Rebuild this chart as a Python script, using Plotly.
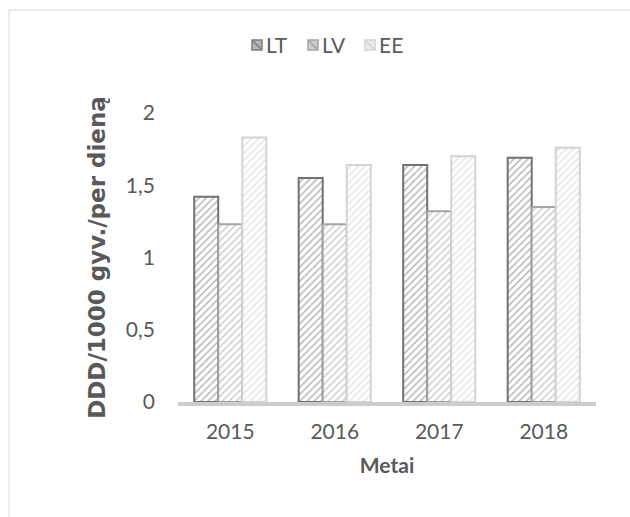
import plotly.graph_objects as go

years = ["2015", "2016", "2017", "2018"]
lt = [1.42, 1.55, 1.64, 1.69]
lv = [1.23, 1.23, 1.32, 1.35]
ee = [1.83, 1.64, 1.70, 1.76]
series_names = ["LT", "LV", "EE"]
y_ticks = [0, 0.5, 1, 1.5, 2]
y_tick_labels = ["0", "0,5", "1", "1,5", "2"]

styles = [
    dict(fg="#6f6f6f", line="#727272", box="#7c7c7c", boxfill="#b4b4b4"),
    dict(fg="#9c9c9c", line="#a4a4a4", box="#a4a4a4", boxfill="#cccccc"),
    dict(fg="#cdcdcd", line="#d4d4d4", box="#d4d4d4", boxfill="#ebebeb"),
]

fig = go.Figure()
for name, vals, st in zip(series_names, [lt, lv, ee], styles):
    fig.add_trace(go.Bar(
        x=years, y=vals, name=name, showlegend=False,
        marker=dict(
            color="white",
            line=dict(color=st["line"], width=2),
            pattern=dict(shape="/", fgcolor=st["fg"], bgcolor="white", size=5, solidity=0.3),
        ),
    ))

W, H = 630, 517
L, R, T, B = 178, 34, 113, 115
pw, ph = W - L - R, H - T - B

def px(x):
    return (x - L) / pw

def py(y):
    return (H - B - y) / ph

shapes = [dict(type="rect", xref="paper", yref="paper",
               x0=px(9), x1=px(640), y0=py(530), y1=py(10),
               line=dict(color="#d9d9d9", width=1), fillcolor="rgba(0,0,0,0)", layer="below")]
annotations = []

# manual legend (compact, box right next to text like the original)
legend_x = [252, 308, 365]
for name, st, lx in zip(series_names, styles, legend_x):
    shapes.append(dict(type="rect", xref="paper", yref="paper",
                       x0=px(lx), x1=px(lx + 10), y0=py(50), y1=py(40),
                       line=dict(color=st["box"], width=1.5), fillcolor=st["boxfill"]))
    shapes.append(dict(type="line", xref="paper", yref="paper",
                       x0=px(lx + 1), x1=px(lx + 9), y0=py(41), y1=py(49),
                       line=dict(color=st["box"], width=1.5)))
    annotations.append(dict(text=name, xref="paper", yref="paper",
                            x=px(lx + 12), y=py(45), xanchor="left", yanchor="middle",
                            showarrow=False, font=dict(size=21, color="#595959")))

fig.update_layout(
    width=W, height=H,
    margin=dict(l=L, r=R, t=T, b=B),
    paper_bgcolor="white", plot_bgcolor="white",
    barmode="group", bargap=0.31, bargroupgap=0,
    font=dict(family="Lato, Open Sans, sans-serif", color="#595959", size=21),
    xaxis=dict(showline=True, linecolor="#cccccc", linewidth=4, ticks="",
               ticklabelstandoff=8,
               title=dict(text="<b>Metai</b>", font=dict(size=21), standoff=17),
               tickfont=dict(size=21)),
    yaxis=dict(range=[0, 2], tickvals=y_ticks, ticktext=y_tick_labels,
               showgrid=False, zeroline=False, ticklabelstandoff=22,
               tickfont=dict(size=21),
               title=dict(text="<b>DDD/1000 gyv./per dieną</b>",
                          font=dict(size=23, family="DejaVu Sans, Open Sans, sans-serif"), standoff=13)),
    shapes=shapes,
    annotations=annotations,
)

fig.write_html("out.html")
